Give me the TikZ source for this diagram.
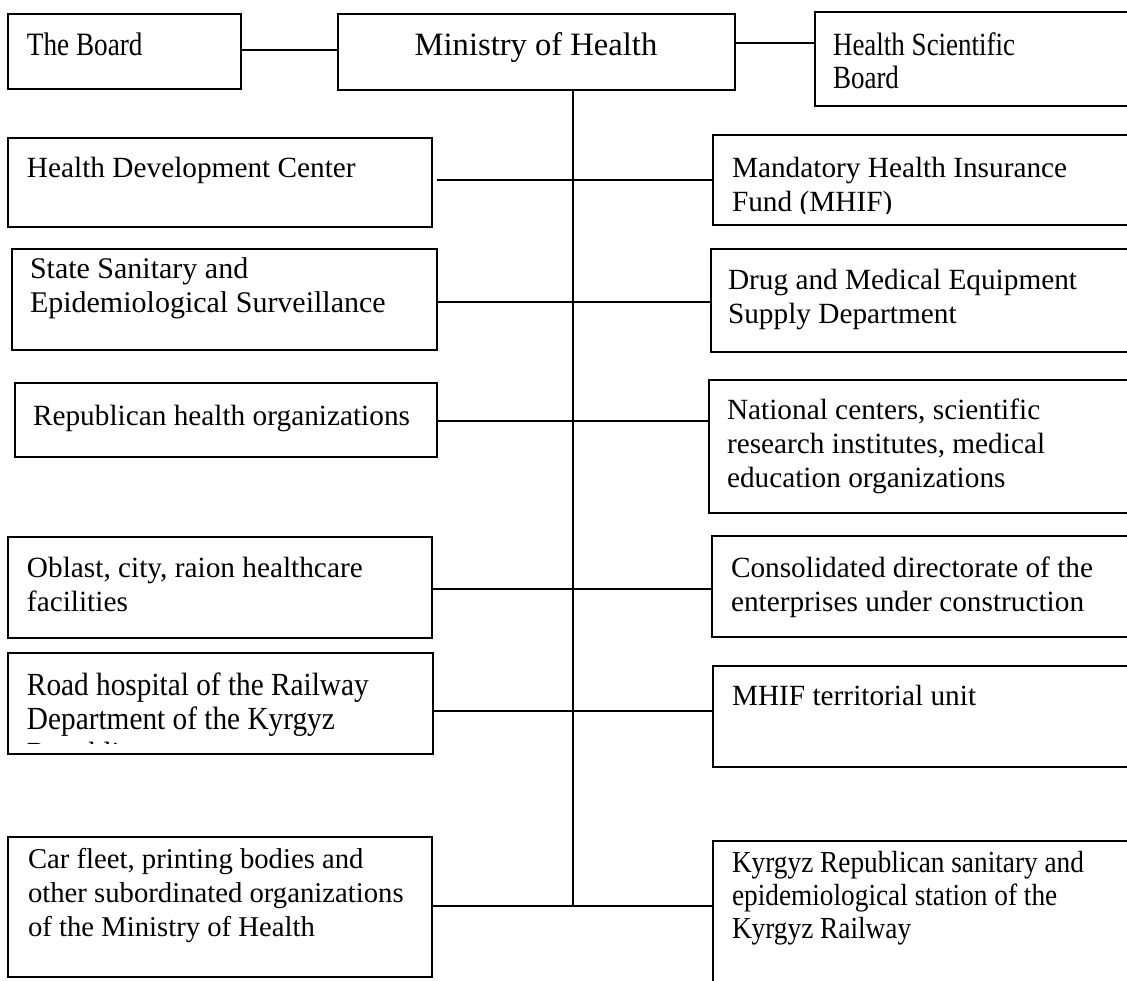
\documentclass[tikz,border=0pt]{standalone}
\usepackage{fontspec}
\usepackage{graphicx}
\setmainfont{Liberation Serif}
\newcommand{\mlines}[1]{\vtop{\halign{##\hfil\cr#1\crcr}}}
\newcommand{\vstretch}[2]{\scalebox{1}[#1]{#2}}
\begin{document}
\begin{tikzpicture}[x=1pt,y=-1pt,
  box/.style={draw, line width=1.5pt, rectangle, inner sep=0pt, outer sep=0pt, anchor=north west},
  txt/.style={inner sep=0pt, outer sep=0pt, anchor=base west, font=\fontsize{29.3}{34}\selectfont},
  fs/.style 2 args={font=\fontsize{#1}{#2}\selectfont},
  conn/.style={line width=1.5pt}]
\useasboundingbox (0,0) rectangle (1127,980);
\clip (0,0) rectangle (1127,980);
\fill[white] (0,0) rectangle (1127,980);

% boxes
\node[box, minimum width=233, minimum height=75]  (board) at (8,14) {};
\node[box, minimum width=397, minimum height=76]  (moh)   at (338,14) {};
\node[box, minimum width=325, minimum height=94]  (hsb)   at (815,12) {};
\node[box, minimum width=424, minimum height=89]  (hdc)   at (8,138) {};
\node[box, minimum width=427, minimum height=90]  (mhif)  at (713,135) {};
\node[box, minimum width=425, minimum height=101] (sses)  at (12,249) {};
\node[box, minimum width=429, minimum height=103] (dme)   at (711,249) {};
\node[box, minimum width=422, minimum height=74]  (rho)   at (15,383) {};
\node[box, minimum width=431, minimum height=133] (nat)   at (709,380) {};
\node[box, minimum width=424, minimum height=101] (obl)   at (8,537) {};
\node[box, minimum width=428, minimum height=101] (cons)  at (712,536) {};
\node[box, minimum width=425, minimum height=101] (road)  at (8,653) {};
\node[box, minimum width=427, minimum height=101] (mter)  at (713,666) {};
\node[box, minimum width=424, minimum height=140] (car)   at (8,837) {};
\node[box, minimum width=427, minimum height=154] (kyr)   at (713,841) {};

% texts
\node[txt, fs={27.2}{34}] (board-t) at (27,55) {\vstretch{1.2}{The Board}};
\node[txt, fs={32.6}{34}, anchor=base] (moh-t) at (536,55) {Ministry of Health};
\node[txt, fs={27}{27.5}] (hsb-t) at (833,55) {\vstretch{1.2}{\mlines{Health Scientific\cr Board}}};
\node[txt] (hdc-t) at (27,177) {Health Development Center};
\begin{scope}
\clip (700,130) rectangle (1127,213);
\node[txt] (mhif-t) at (732,177) {\mlines{Mandatory Health Insurance\cr Fund (MHIF)}};
\end{scope}
\node[txt, fs={30}{34}] (sses-t) at (30,278) {\mlines{State Sanitary and\cr Epidemiological Surveillance}};
\node[txt] (dme-t) at (728,289) {\mlines{Drug and Medical Equipment\cr Supply Department}};
\node[txt] (rho-t) at (33,425) {Republican health organizations};
\node[txt] (nat-t) at (727,419) {\mlines{National centers, scientific\cr research institutes, medical\cr education organizations}};
\node[txt] (obl-t) at (27,577) {\mlines{Oblast, city, raion healthcare\cr facilities}};
\node[txt] (cons-t) at (731,577) {\mlines{Consolidated directorate of the\cr enterprises under construction}};
\begin{scope}
\clip (0,650) rectangle (440,743.5);
\node[txt, fs={29.3}{31.8}] (road-t) at (27,695) {\vstretch{1.1}{\mlines{Road hospital of the Railway\cr Department of the Kyrgyz\cr Republic}}};
\end{scope}
\node[txt] (mter-t) at (732,705) {MHIF territorial unit};
\node[txt, fs={28.7}{34}] (car-t) at (28,868) {\mlines{Car fleet, printing bodies and\cr other subordinated organizations\cr of the Ministry of Health}};
\node[txt, fs={27.3}{29.5}] (kyr-t) at (732,872) {\vstretch{1.12}{\mlines{Kyrgyz Republican sanitary and\cr epidemiological station of the\cr Kyrgyz Railway}}};

% connectors
\coordinate (h0) at (board.east |- 0,50);
\draw[conn] (h0) -- (h0 -| moh.west);
\coordinate (h00) at (moh.east |- 0,43);
\draw[conn] (h00) -- (h00 -| hsb.west);
\coordinate (h1) at (hdc.east |- 0,180);
\draw[conn] ([xshift=5pt]h1) -- (h1 -| mhif.west);
\coordinate (h2) at (sses.east |- 0,302);
\draw[conn] (h2) -- (h2 -| dme.west);
\coordinate (h3) at (rho.east |- 0,421);
\draw[conn] (h3) -- (h3 -| nat.west);
\coordinate (h4) at (obl.east |- 0,589);
\draw[conn] (h4) -- (h4 -| cons.west);
\coordinate (h5) at (road.east |- 0,711);
\draw[conn] (h5) -- (h5 -| mter.west);
\coordinate (h6) at (car.east |- 0,906);
\draw[conn] (h6) -- (h6 -| kyr.west);
\coordinate (tt) at (moh.south -| 573,0);
\draw[conn] (tt) -- (tt |- h6);
\end{tikzpicture}
\end{document}
